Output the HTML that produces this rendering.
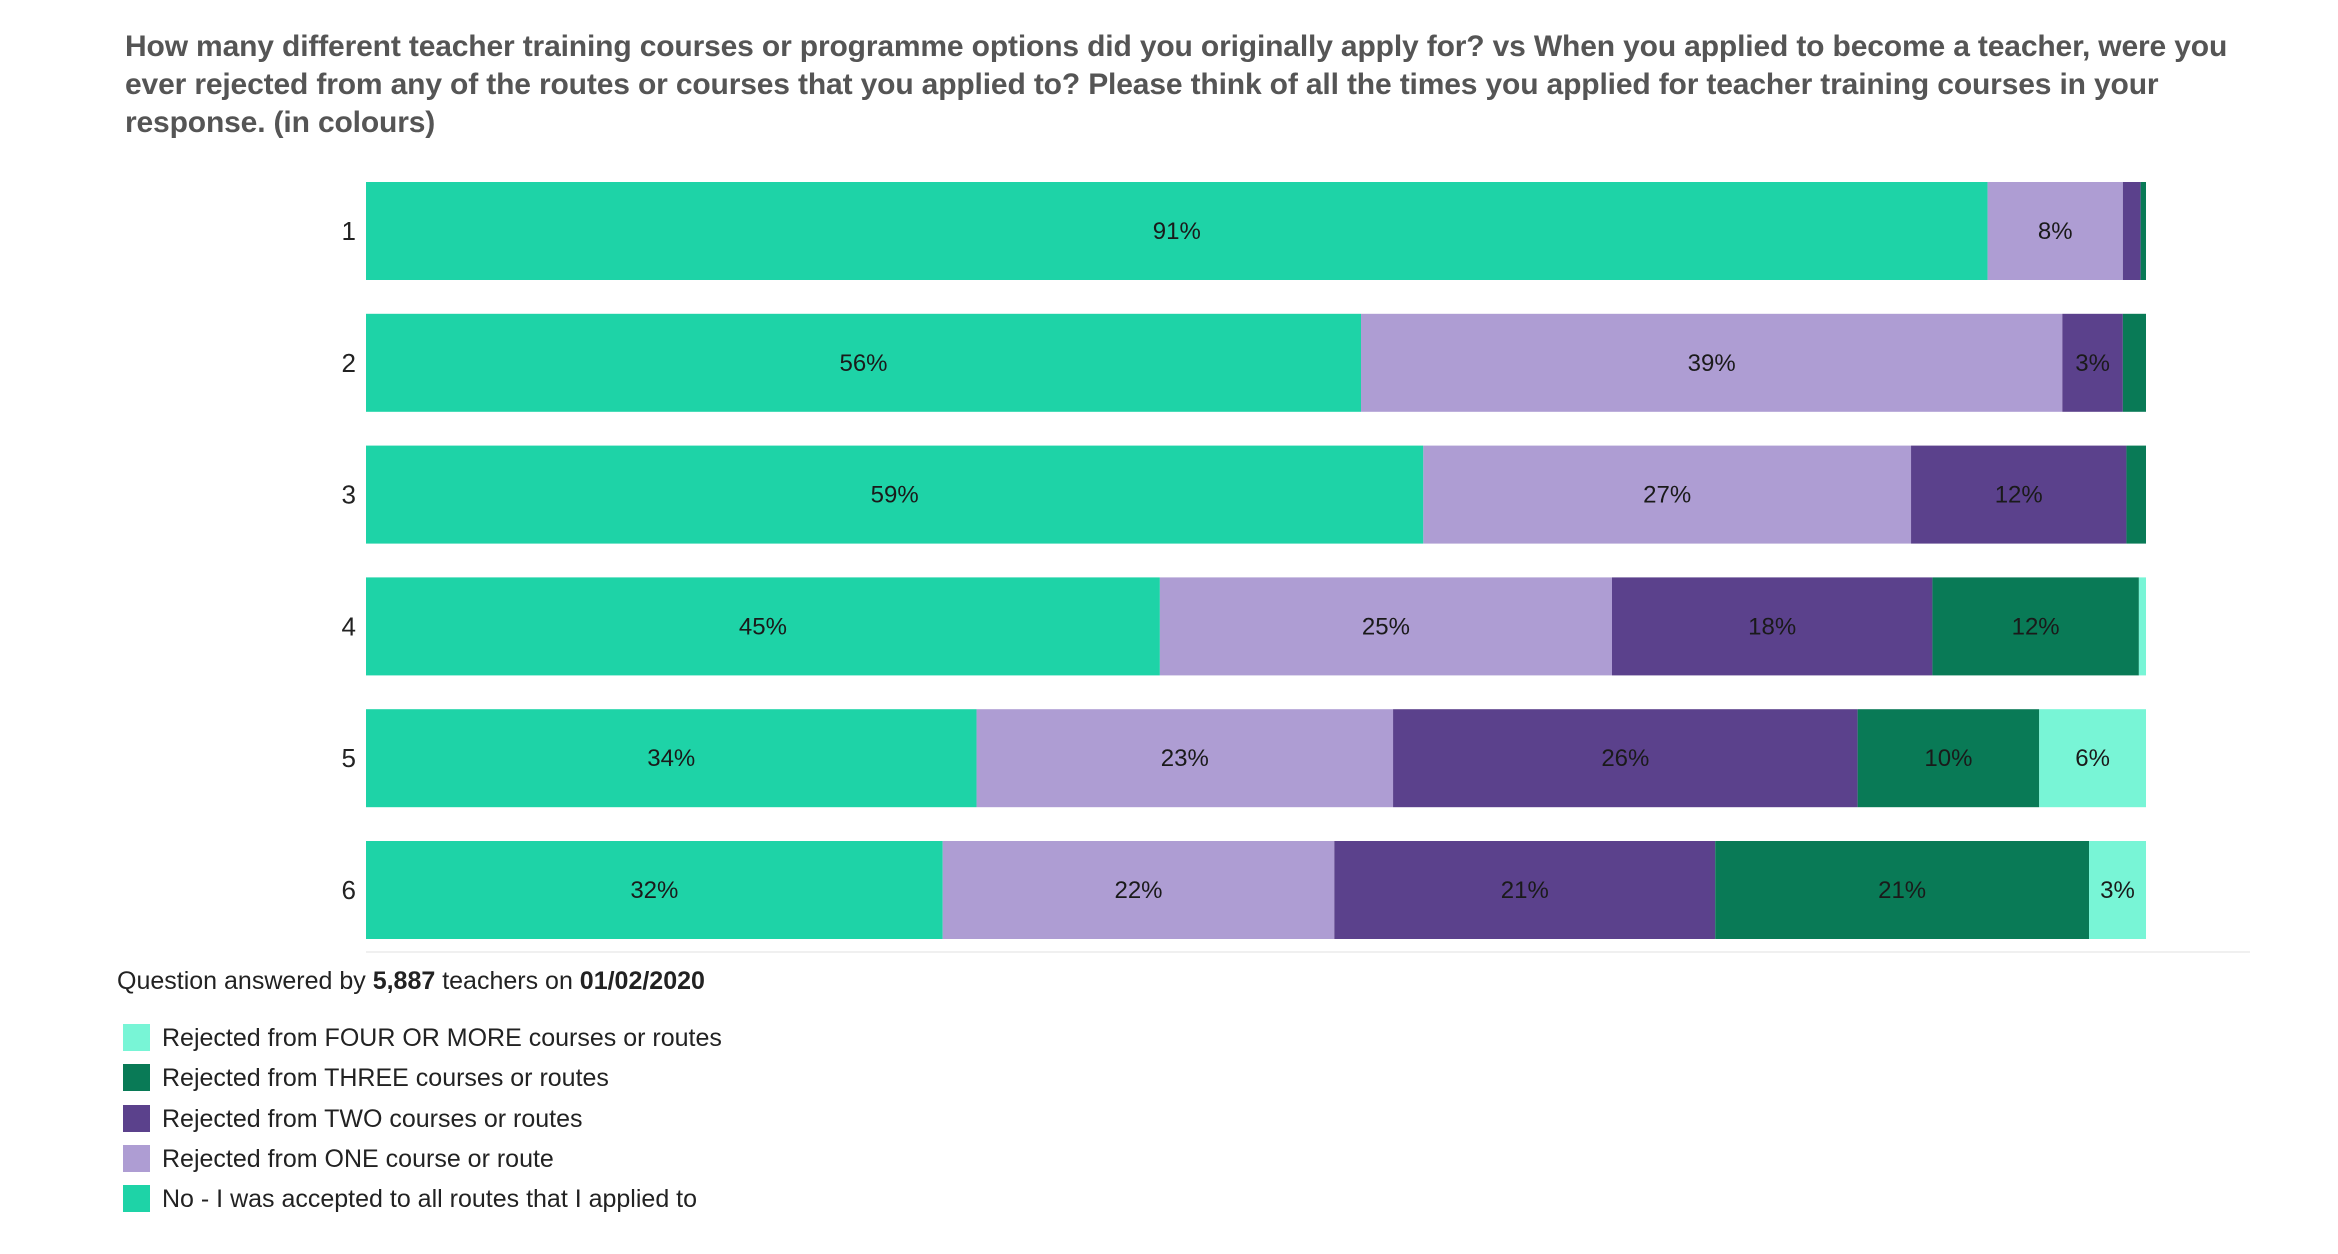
<!DOCTYPE html>
<html><head><meta charset="utf-8"><style>
body{margin:0;background:#fff;width:2338px;height:1254px;overflow:hidden;font-family:"Liberation Sans",sans-serif;}
#title{position:absolute;left:125px;top:28px;white-space:nowrap;font-size:30px;line-height:38px;font-weight:bold;color:#555;letter-spacing:-0.15px}
#note{position:absolute;left:117px;top:967px;font-size:25px;color:#222}
.leg{position:absolute;left:123px;font-size:25px;color:#222;height:30px;line-height:30px}
.leg span.sw{position:absolute;left:0;top:1px;width:27px;height:27px}
.leg span.tx{position:absolute;left:39px;white-space:nowrap}
</style></head><body>
<div id="title">How many different teacher training courses or programme options did you originally apply for? vs When you applied to become a teacher, were you<br>ever rejected from any of the routes or courses that you applied to? Please think of all the times you applied for teacher training courses in your<br>response. (in colours)</div>
<svg id="chart" width="2338" height="1254" style="position:absolute;left:0;top:0"></svg>
<div id="note">Question answered by <b>5,887</b> teachers on <b>01/02/2020</b></div>
<div id="legend"></div>
<script>
const categories=["1","2","3","4","5","6"];
const seriesNames=["No - I was accepted to all routes that I applied to","Rejected from ONE course or route","Rejected from TWO courses or routes","Rejected from THREE courses or routes","Rejected from FOUR OR MORE courses or routes"];
const accepted=[91.1,55.9,59.4,44.6,34.3,32.4];
const rejOne=[7.6,39.4,27.4,25.4,23.4,22.0];
const rejTwo=[1.0,3.4,12.1,18.0,26.1,21.4];
const rejThree=[0.3,1.3,1.1,11.6,10.2,21.0];
const rejFour=[0.0,0.0,0.0,0.4,6.0,3.2];
const series=[accepted,rejOne,rejTwo,rejThree,rejFour];
const colors=["#1ed3a7","#ae9dd3","#5b418c","#097a56","#78f5d6"];
const NS="http://www.w3.org/2000/svg";
const svg=document.getElementById('chart');
const x0=366,x1=2146,yTop=182,step=131.8,bh=98;
function xs(v){return x0+(x1-x0)*v/100;}
function ys(i){return yTop+i*step;}
const grid=document.createElementNS(NS,'line');


grid.setAttribute('x1',x0);grid.setAttribute('x2',2250);grid.setAttribute('y1',952);grid.setAttribute('y2',952);
grid.setAttribute('stroke','#f0f0f0');grid.setAttribute('stroke-width','2');svg.appendChild(grid);
categories.forEach((c,i)=>{
  const t=document.createElementNS(NS,'text');
  
  
  t.setAttribute('x',356);t.setAttribute('y',ys(i)+bh/2+9);t.setAttribute('text-anchor','end');
  t.setAttribute('font-size','26');t.setAttribute('fill','#222');t.textContent=c;svg.appendChild(t);
  let cum=0;
  series.forEach((s,k)=>{
    const v=s[i];
    const r=document.createElementNS(NS,'rect');
    
    
    r.setAttribute('x',xs(cum));r.setAttribute('y',ys(i));r.setAttribute('width',Math.max(0,xs(cum+v)-xs(cum)));r.setAttribute('height',bh);
    r.setAttribute('fill',colors[k]);svg.appendChild(r);
    if(v>=2){
      const l=document.createElementNS(NS,'text');
      
      
      l.setAttribute('x',(xs(cum)+xs(cum+v))/2);l.setAttribute('y',ys(i)+bh/2+8);l.setAttribute('text-anchor','middle');
      l.setAttribute('font-size','24');l.setAttribute('fill','#1a1a1a');l.textContent=Math.round(v)+'%';svg.appendChild(l);
    }
    cum+=v;
  });
});
const leg=document.getElementById('legend');
const order=[4,3,2,1,0];
order.forEach((k,j)=>{
  const d=document.createElement('div');
  
  
  d.className='leg';d.style.top=(1023+j*40.3)+'px';
  d.innerHTML='<span class="sw" style="background:'+colors[k]+'"></span><span class="tx">'+seriesNames[k]+'</span>';
  leg.appendChild(d);
});
</script>
</body></html>
